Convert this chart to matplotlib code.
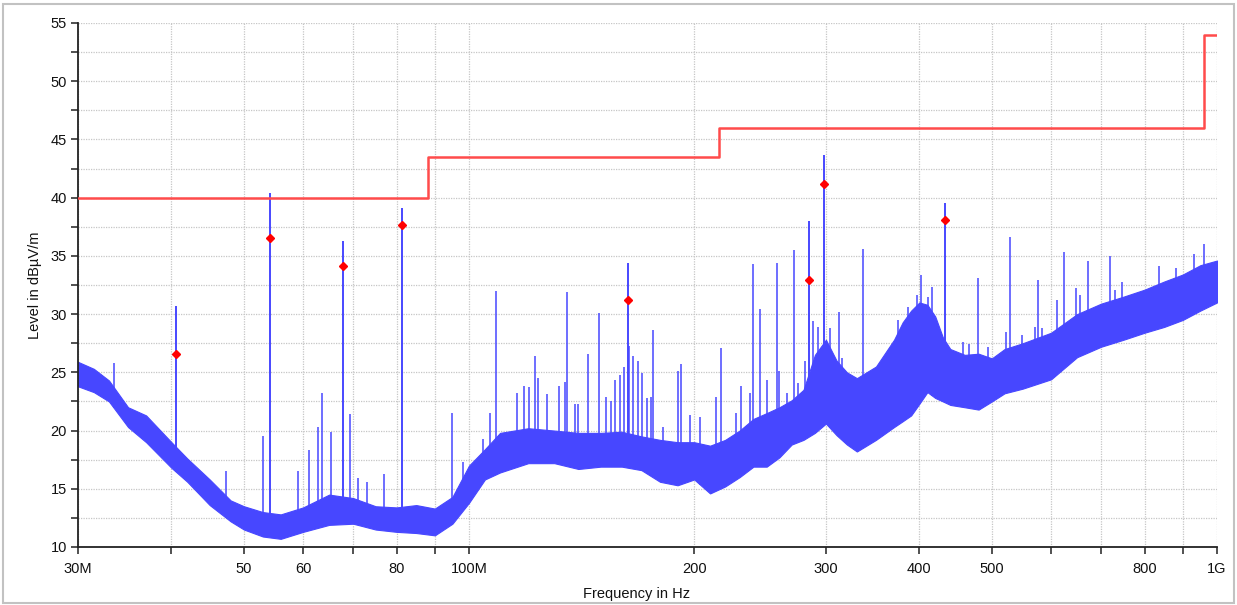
import numpy as np
import matplotlib
matplotlib.use("Agg")
import matplotlib.pyplot as plt
from matplotlib.ticker import FixedLocator, FixedFormatter, NullLocator
from matplotlib.patches import Rectangle

plt.rcParams['font.family'] = ['Liberation Sans', 'DejaVu Sans']

# ---- broadband noise floor: lower / upper edge of the trace (MHz, dBµV/m)
band_freq = [30, 31.5, 33, 35, 37, 40, 42, 45, 48, 50, 53, 56, 60, 65, 70, 75,
             80, 85, 90, 95, 100, 105, 110, 120, 130, 140, 150, 160, 170, 180,
             190, 200, 210, 220, 230, 240, 250, 260, 270, 280, 290, 300, 310,
             320, 330, 350, 370, 380, 390, 400, 410, 420, 430, 440, 460, 480,
             500, 520, 550, 600, 650, 700, 750, 800, 850, 900, 950, 1000]
band_low = [23.8, 23.3, 22.5, 20.3, 19.0, 16.8, 15.6, 13.6, 12.2, 11.5, 10.9,
            10.7, 11.3, 11.9, 12.0, 11.5, 11.3, 11.2, 11.0, 12.0, 13.8, 15.8,
            16.4, 17.2, 17.2, 16.7, 16.9, 16.9, 16.6, 15.6, 15.3, 15.8, 14.6,
            15.2, 16.0, 16.9, 16.9, 17.7, 18.8, 19.2, 19.8, 20.6, 19.6, 18.8,
            18.2, 19.2, 20.3, 20.8, 21.3, 22.3, 23.3, 22.8, 22.5, 22.2, 22.0,
            21.8, 22.5, 23.2, 23.6, 24.4, 26.3, 27.2, 27.8, 28.4, 28.9, 29.5,
            30.3, 31.0]
band_high = [25.9, 25.3, 24.3, 22.0, 21.3, 19.0, 17.6, 15.8, 14.0, 13.5, 13.0,
             12.8, 13.4, 14.5, 14.2, 13.5, 13.4, 13.6, 13.3, 14.3, 17.0, 18.4,
             19.8, 20.2, 20.0, 19.8, 19.8, 19.9, 19.5, 19.2, 19.0, 19.0, 18.7,
             19.2, 20.0, 21.0, 21.5, 22.0, 22.6, 23.5, 26.5, 27.8, 26.0, 25.0,
             24.5, 25.5, 27.8, 29.3, 30.3, 31.0, 30.8, 29.8, 28.0, 27.0, 26.5,
             26.6, 26.2, 27.0, 27.5, 28.4, 30.0, 30.9, 31.5, 32.1, 32.8, 33.4,
             34.2, 34.6]

# ---- narrowband emissions without a final-measurement marker (MHz, dBµV/m)
spike_freq = [33.5, 47.3, 53.1, 59.0, 61.0, 62.9, 63.6, 65.3, 69.4, 71.1, 73.0,
              76.9, 94.8, 98.2, 104.5, 106.6, 108.5, 115.9, 117.2, 118.3,
              120.4, 122.4, 123.5, 127.3, 131.7, 134.3, 135.0, 138.4, 139.9,
              144.0, 149.0, 152.3, 154.7, 156.7, 159.2, 161.1, 163.7, 165.8,
              168.4, 170.4, 173.0, 174.9, 176.2, 181.8, 190.0, 192.0, 197.4,
              203.6, 213.6, 217.2, 227.4, 230.7, 237.4, 239.9, 244.6, 249.9,
              257.8, 259.6, 265.8, 271.8, 275.5, 281.2, 287.9, 292.7, 303.7,
              312.0, 315.0, 336.0, 356.1, 368.4, 374.7, 386.5, 396.7, 401.5,
              411.3, 416.2, 457.8, 465.4, 479.8, 494.4, 522.1, 528.5, 547.8,
              570.8, 576.6, 583.0, 610.2, 624.3, 647.2, 655.6, 672.5, 719.7,
              730.0, 745.6, 837.0, 880.6, 931.5, 960.6]
spike_level = [25.8, 16.5, 19.5, 16.5, 18.3, 20.3, 23.2, 19.9, 21.4, 15.9, 15.6,
               16.3, 21.5, 17.3, 19.3, 21.5, 32.0, 23.2, 20.0, 23.8,
               23.7, 26.4, 24.5, 23.1, 23.8, 24.2, 31.9, 22.3, 22.3,
               26.6, 30.1, 22.9, 22.5, 24.3, 24.8, 25.5, 27.3, 26.4,
               26.0, 24.9, 22.8, 22.9, 28.6, 20.3, 25.1, 25.7, 21.3,
               21.2, 22.9, 27.1, 21.5, 23.85, 23.2, 34.3, 30.4, 24.3,
               34.35, 25.1, 23.2, 35.5, 24.05, 26.0, 29.4, 28.9, 28.8,
               30.2, 26.2, 35.6, 25.6, 26.35, 29.5, 30.6, 31.6, 33.4,
               31.5, 32.3, 27.6, 27.4, 33.1, 27.2, 28.5, 36.6, 28.2,
               28.9, 32.9, 28.8, 31.2, 35.3, 32.2, 31.6, 34.6, 35.0,
               32.1, 32.8, 34.1, 34.0, 35.2, 36.0]

# ---- emissions selected for final measurement
peak_freq = [40.6, 54.2, 67.8, 81.4, 162.9, 285.0, 298.4, 432.4]
peak_level = [30.7, 40.4, 36.3, 39.1, 34.4, 38.0, 43.7, 39.5]
final_level = [26.55, 36.56, 34.1, 37.65, 31.2, 32.96, 41.15, 38.08]

# ---- limit line (step edges in MHz)
limit_freq = [30, 88, 216, 960, 1000]
limit_level = [40, 43.5, 46, 54, 54]

# ---- axis ticks
x_ticks = [30, 40, 50, 60, 70, 80, 90, 100, 200, 300, 400, 500, 600, 700,
           800, 900, 1000]
x_labels = ['30M', '', '50', '60', '', '80', '', '100M', '200', '300', '400',
            '500', '', '', '800', '', '1G']
y_major = [10, 15, 20, 25, 30, 35, 40, 45, 50, 55]
y_minor = [12.5, 17.5, 22.5, 27.5, 32.5, 37.5, 42.5, 47.5, 52.5]

MHZ = 1e6
TRACE = '#4747FF'
W, H = 1237, 605

fig = plt.figure(figsize=(W / 100, H / 100), dpi=100)
ax = fig.add_axes([78 / W, 58 / H, 1139 / W, 524 / H])
ax.set_xscale('log')
ax.set_xlim(30 * MHZ, 1000 * MHZ)
ax.set_ylim(10, 55)

# grid
grid_kw = dict(color='#C6C6C6', lw=0.9, ls=(0, (1, 1)), zorder=0)
for f in x_ticks:
    ax.axvline(f * MHZ, **grid_kw)
for v in y_major + y_minor:
    ax.axhline(v, **grid_kw)

# noise floor
bf = np.array(band_freq) * MHZ
ax.fill_between(bf, band_low, band_high, color=TRACE, lw=0.8,
                edgecolor=TRACE, zorder=2)

# narrowband spikes rise out of the noise floor
log_bf = np.log10(bf)
sf = np.array(spike_freq) * MHZ
spike_base = np.interp(np.log10(sf), log_bf, band_low)
ax.vlines(sf, spike_base, spike_level, color=TRACE, lw=1.1, zorder=2)

pf = np.array(peak_freq) * MHZ
peak_base = np.interp(np.log10(pf), log_bf, band_low)
ax.vlines(pf, peak_base, peak_level, color=TRACE, lw=1.4, zorder=2)

# limit
ax.step(np.array(limit_freq) * MHZ, limit_level, where='post',
        color='#FF4B4B', lw=1.8, zorder=3)

# final measurement points
ax.plot(pf, final_level, 'D', color='#FF0000', ms=4, mec='#FF0000', zorder=4)

# ticks
ax.xaxis.set_major_locator(FixedLocator([f * MHZ for f in x_ticks]))
ax.xaxis.set_major_formatter(FixedFormatter(x_labels))
ax.xaxis.set_minor_locator(NullLocator())
ax.yaxis.set_major_locator(FixedLocator(y_major))
ax.yaxis.set_minor_locator(FixedLocator(y_minor))
ax.tick_params(axis='both', which='both', direction='out', length=5,
               width=1.1, colors='#222222', labelsize=10.5, labelcolor='#111111')
ax.tick_params(axis='x', pad=6)
ax.tick_params(axis='y', pad=3)

for side in ('top', 'right'):
    ax.spines[side].set_visible(False)
for side in ('left', 'bottom'):
    ax.spines[side].set_color('#222222')
    ax.spines[side].set_linewidth(1.3)

fig.text(637 / W, 11 / H, 'Frequency in Hz', ha='center', va='center',
         fontsize=10.5, color='#111111')
fig.text(35 / W, 1 - 285 / H, 'Level in dBµV/m', ha='center', va='center',
         rotation=90, fontsize=10.5, color='#111111')

fig.patches.append(Rectangle((3 / W, 2 / H), 1231 / W, 599 / H,
                             transform=fig.transFigure, fill=False,
                             ec='#C2C2C2', lw=1.5))

fig.savefig('out.png', dpi=100)
